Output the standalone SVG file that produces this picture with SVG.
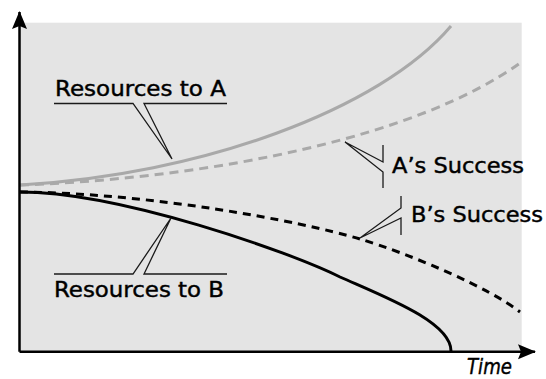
<svg xmlns="http://www.w3.org/2000/svg" width="546" height="379" viewBox="0 0 546 379">
  <defs>
    <marker id="arrow" viewBox="0 0 18 16" refX="17" refY="8" markerWidth="18" markerHeight="16" markerUnits="userSpaceOnUse" orient="auto">
      <path d="M18,8 L0,0.5 L3,8 L0,15.5 Z" fill="#000"/>
    </marker>
  </defs>
  <style>
    .axis { stroke: #000; stroke-width: 2.5; fill: none; }
    .curve { fill: none; stroke-width: 3; stroke-linecap: butt; }
    .gray { stroke: #a9a9a9; }
    .black { stroke: #000; }
    .dashg { stroke-dasharray: 9 6; }
    .dashb { stroke-dasharray: 8 6; }
    .call { fill: none; stroke: #1a1a1a; stroke-width: 1.3; stroke-linejoin: miter; }
    .lbl { font-family: "DejaVu Sans", "Liberation Sans", sans-serif; font-size: 22px; fill: #000; stroke: #000; stroke-width: 0.45; }
  </style>

  <rect id="plot-area" x="19.5" y="22.7" width="502.2" height="329" fill="#e4e4e4"/>

  <g id="curves">
    <path id="res-a" class="curve gray" d="M20,185 C200,175 380,110 451,26"/>
    <path id="succ-a" class="curve gray dashg" d="M20,185 C220,178 420,135 520,63"/>
    <path id="res-b" class="curve black" d="M20,192 C120,192 290,252 340,277 C385,297 451,322 451,351"/>
    <path id="succ-b" class="curve black dashb" d="M20,192 C150,193 300,221 360,239 C410,254 490,288 520,312"/>
  </g>

  <g id="axes">
    <path class="axis" d="M19.5,351.7 L19.5,12" marker-end="url(#arrow)"/>
    <path class="axis" d="M19.5,351.7 L535,351.7" marker-end="url(#arrow)"/>
  </g>

  <g id="label-res-a">
    <polyline class="call" points="54,103.5 133,103.5 172,159 144,103.5 227,103.5"/>
    <text class="lbl" x="55" y="96" textLength="171" lengthAdjust="spacingAndGlyphs">Resources to A</text>
  </g>

  <g id="label-res-b">
    <polyline class="call" points="54,274 133,274 171,218 144,274 227,274"/>
    <text class="lbl" x="54" y="297" textLength="170" lengthAdjust="spacingAndGlyphs">Resources to B</text>
  </g>

  <g id="label-succ-a">
    <polyline class="call" points="383,145 383,162 345,142 383,172 383,188"/>
    <text class="lbl" x="392" y="173" textLength="132" lengthAdjust="spacingAndGlyphs">A’s Success</text>
  </g>

  <g id="label-succ-b">
    <polyline class="call" points="401,196 401,208 360,238 401,218 401,235"/>
    <text class="lbl" x="411" y="222" textLength="132" lengthAdjust="spacingAndGlyphs">B’s Success</text>
  </g>

  <g id="label-time">
    <text class="lbl" x="467" y="374" font-size="20" font-style="italic" textLength="45" lengthAdjust="spacingAndGlyphs">Time</text>
  </g>
</svg>
